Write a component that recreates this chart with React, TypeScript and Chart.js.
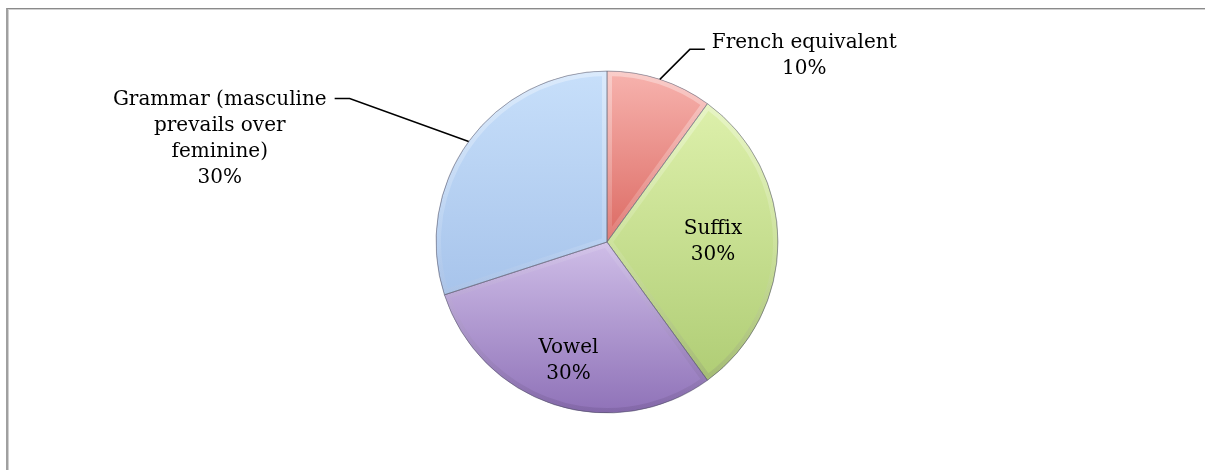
import React, { useEffect, useRef } from "react";
import { Chart, registerables } from "chart.js";

Chart.register(...registerables);

// ---- data ----
const categories: string[][] = [
  ["French equivalent"],
  ["Suffix"],
  ["Vowel"],
  ["Grammar (masculine", "prevails over", "feminine)"],
];
const values: number[] = [10, 30, 30, 30];

// ---- styles ----
const topColors = ["#F7B3AE", "#DDF0AB", "#D5C5EC", "#C7DFFA"];
const bottomColors = ["#DC6A63", "#ADCB72", "#8F72B8", "#A5C2EA"];
const gradStops: [number, number][] = [
  [0, 0.5],
  [0.1, 0.95],
  [0.45, 1],
  [0, 0.7],
];
const PIE_RADIUS = 171;
const FONT = "20px 'DejaVu Serif'";
const LINE_H = 26;

// label layout (placement styles, not data)
type LabelLayout =
  | { mode: "inside"; r: number }
  | { mode: "outside"; elbowDx: number; elbowDy: number; hLen: number; gap: number; textDy: number };
const labelLayout: LabelLayout[] = [
  { mode: "outside", elbowDx: 30, elbowDy: -30, hLen: 15, gap: 7, textDy: -7 },
  { mode: "inside", r: 0.62 },
  { mode: "inside", r: 0.73 },
  { mode: "outside", elbowDx: -119, elbowDy: -43, hLen: -15, gap: 8, textDy: 1 },
];

const labelPlugin = {
  id: "pieLabels",
  afterDatasetsDraw(chart: any) {
    const ctx: CanvasRenderingContext2D = chart.ctx;
    const meta = chart.getDatasetMeta(0);
    const total = values.reduce((a, b) => a + b, 0);

    // bevel effect
    meta.data.forEach((arc: any) => {
      const { x, y, startAngle, endAngle, outerRadius } = arc.getProps(
        ["x", "y", "startAngle", "endAngle", "outerRadius"],
        true
      );
      ctx.save();
      ctx.beginPath();
      ctx.moveTo(x, y);
      ctx.arc(x, y, outerRadius, startAngle, endAngle);
      ctx.closePath();
      ctx.clip();
      const g = ctx.createLinearGradient(0, y - outerRadius, 0, y + outerRadius);
      g.addColorStop(0, "rgba(255,255,255,0.35)");
      g.addColorStop(0.5, "rgba(255,255,255,0.12)");
      g.addColorStop(1, "rgba(60,40,80,0.15)");
      ctx.strokeStyle = g;
      ctx.lineWidth = 10;
      ctx.lineJoin = "miter";
      ctx.stroke();
      ctx.lineWidth = 1;
      ctx.strokeStyle = "rgba(80,80,100,0.45)";
      ctx.stroke();
      ctx.restore();
    });

    ctx.save();
    ctx.font = FONT;
    ctx.fillStyle = "#000";
    ctx.textBaseline = "middle";
    ctx.textAlign = "center";
    meta.data.forEach((arc: any, i: number) => {
      const { x, y, startAngle, endAngle, outerRadius } = arc.getProps(
        ["x", "y", "startAngle", "endAngle", "outerRadius"],
        true
      );
      const mid = (startAngle + endAngle) / 2;
      const pct = Math.round((values[i] / total) * 100) + "%";
      const lines = [...categories[i], pct];
      const lay = labelLayout[i];
      if (lay.mode === "inside") {
        const lx = x + Math.cos(mid) * outerRadius * lay.r;
        const ly = y + Math.sin(mid) * outerRadius * lay.r;
        const y0 = ly - ((lines.length - 1) * LINE_H) / 2;
        lines.forEach((t, k) => ctx.fillText(t, lx, y0 + k * LINE_H));
      } else {
        const ex = x + Math.cos(mid) * outerRadius;
        const ey = y + Math.sin(mid) * outerRadius;
        const bx = ex + lay.elbowDx;
        const by = ey + lay.elbowDy;
        const hx = bx + lay.hLen;
        ctx.beginPath();
        ctx.moveTo(ex, ey);
        ctx.lineTo(bx, by);
        ctx.lineTo(hx, by);
        ctx.strokeStyle = "#000";
        ctx.lineWidth = 1.5;
        ctx.stroke();
        const w = Math.max(...lines.map((t) => ctx.measureText(t).width));
        const first = ctx.measureText(lines[0]).width;
        let cx: number;
        if (lay.hLen > 0) {
          cx = hx + lay.gap + w / 2;
        } else {
          cx = hx - lay.gap - first / 2;
        }
        const y0 = by + lay.textDy;
        lines.forEach((t, k) => ctx.fillText(t, cx, y0 + k * LINE_H));
      }
    });
    ctx.restore();
  },
};

export default function App() {
  const ref = useRef<HTMLCanvasElement | null>(null);
  useEffect(() => {
    document.body.style.margin = "0";
    document.body.style.overflow = "hidden";
    if (!ref.current) return;
    const chart = new Chart(ref.current, {
      type: "pie",
      data: {
        labels: categories.map((c) => c.join(" ")),
        datasets: [
          {
            data: values,
            backgroundColor: (c: any) => {
              const ch = c.chart;
              const area = ch.chartArea;
              if (!area) return topColors[c.dataIndex];
              const cy = (area.top + area.bottom) / 2;
              const g = ch.ctx.createLinearGradient(0, cy - PIE_RADIUS, 0, cy + PIE_RADIUS);
              const [a, b] = gradStops[c.dataIndex];
              g.addColorStop(a, topColors[c.dataIndex]);
              g.addColorStop(b, bottomColors[c.dataIndex]);
              return g;
            },
            borderColor: "rgba(100,100,120,0.5)",
            borderWidth: 1,
          },
        ],
      },
      options: {
        responsive: false,
        animation: false,
        radius: PIE_RADIUS,
        layout: { padding: { left: 9, right: 0, top: 14, bottom: 0 } },
        plugins: {
          legend: { display: false },
          tooltip: { enabled: false },
        },
      } as any,
      plugins: [labelPlugin],
    });
    return () => chart.destroy();
  }, []);

  return (
    <div style={{ position: "relative", width: 1205, height: 470, overflow: "hidden", background: "#fff" }}>
      <div
        style={{
          position: "absolute",
          left: 6,
          top: 8,
          width: 1400,
          height: 700,
          borderTop: "1px solid #8a8a8a",
          borderLeft: "2px solid #a0a0a0",
          boxShadow: "inset 1px 1px 0 #d0d0d0",
        }}
      />
      <canvas ref={ref} width={1205} height={470} style={{ position: "absolute", left: 0, top: 0 }} />
    </div>
  );
}
